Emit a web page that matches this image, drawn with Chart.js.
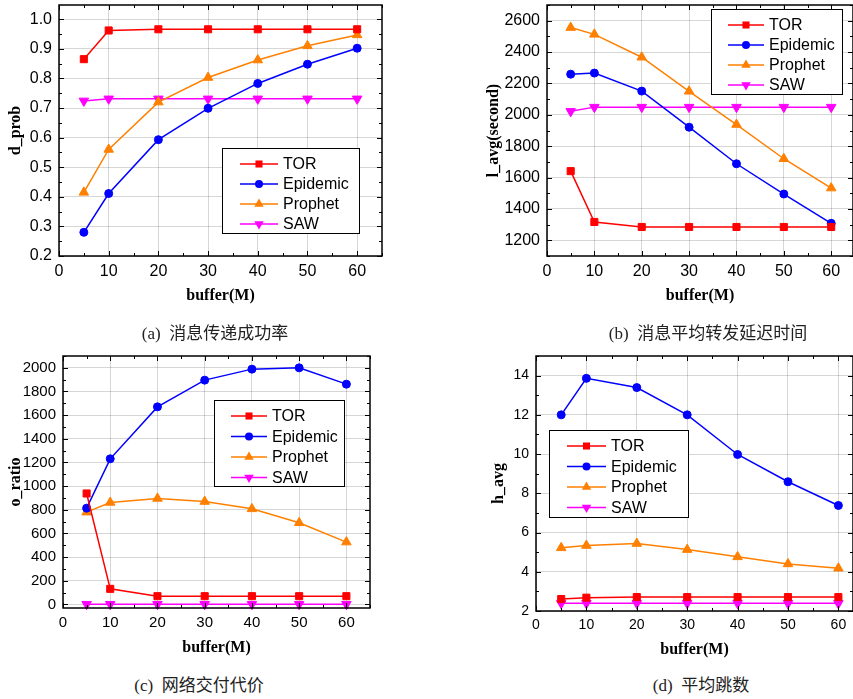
<!DOCTYPE html>
<html>
<head>
<meta charset="utf-8">
<script src="https://cdn.jsdelivr.net/npm/chart.js@4.4.0/dist/chart.umd.min.js"></script>
<style>
  body { margin: 0; background: #fff; }
  #wrap { position: relative; width: 853px; height: 699px; overflow: hidden; background: #fff; }
  .panel { position: absolute; }
  .cap {
    position: absolute;
    font-size: 17px;
    font-family: "Liberation Serif", "Noto Sans CJK SC", serif;
    color: #222;
    white-space: nowrap;
    transform: translateX(-50%);
  }
</style>
</head>
<body>
<div id="wrap">
  <canvas id="chartA" class="panel" style="left:0;top:0"></canvas>
  <canvas id="chartB" class="panel" style="left:430px;top:0"></canvas>
  <canvas id="chartC" class="panel" style="left:0;top:340px"></canvas>
  <canvas id="chartD" class="panel" style="left:430px;top:340px"></canvas>
  <div class="cap" style="left:215px;top:319px">(a)&nbsp; 消息传递成功率</div>
  <div class="cap" style="left:708px;top:319px">(b)&nbsp; 消息平均转发延迟时间</div>
  <div class="cap" style="left:199px;top:671px">(c)&nbsp; 网络交付代价</div>
  <div class="cap" style="left:701px;top:671px">(d)&nbsp; 平均跳数</div>
</div>

<script>
// x values shared by all panels
const bufferSizes = [5, 10, 20, 30, 40, 50, 60];
const xTicks = [0, 10, 20, 30, 40, 50, 60];
const seriesNames = ["TOR", "Epidemic", "Prophet", "SAW"];

// (a) d_prob
const probTOR = [0.865, 0.962, 0.966, 0.966, 0.966, 0.966, 0.966];
const probEpidemic = [0.28, 0.411, 0.593, 0.699, 0.783, 0.848, 0.902];
const probProphet = [0.415, 0.56, 0.72, 0.803, 0.862, 0.91, 0.947];
const probSAW = [0.724, 0.731, 0.731, 0.731, 0.731, 0.731, 0.731];
const probTicks = [0.2, 0.3, 0.4, 0.5, 0.6, 0.7, 0.8, 0.9, 1.0];

// (b) l_avg(second)
const delayTOR = [1641, 1317, 1285, 1285, 1285, 1285, 1285];
const delayEpidemic = [2259, 2266, 2151, 1921, 1688, 1495, 1308];
const delayProphet = [2556, 2513, 2367, 2150, 1938, 1720, 1533];
const delaySAW = [2022, 2049, 2049, 2049, 2049, 2049, 2049];
const delayTicks = [1200, 1400, 1600, 1800, 2000, 2200, 2400, 2600];

// (c) o_ratio
const costTOR = [938, 132, 70, 70, 70, 70, 70];
const costEpidemic = [814, 1231, 1670, 1896, 1989, 2000, 1862];
const costProphet = [780, 862, 896, 870, 808, 690, 527];
const costSAW = [2, 2, 2, 2, 2, 2, 2];
const costTicks = [0, 200, 400, 600, 800, 1000, 1200, 1400, 1600, 1800, 2000];

// (d) h_avg
const hopTOR = [2.61, 2.68, 2.71, 2.71, 2.71, 2.71, 2.71];
const hopEpidemic = [12.0, 13.86, 13.39, 12.0, 9.98, 8.59, 7.38];
const hopProphet = [5.22, 5.34, 5.44, 5.13, 4.76, 4.4, 4.18];
const hopSAW = [2.39, 2.39, 2.39, 2.39, 2.39, 2.39, 2.39];
const hopTicks = [2, 4, 6, 8, 10, 12, 14];

// look of each series: colour, marker, marker size, rotation
const seriesStyles = [
  { color: "#ff0000", point: "rect", radius: 5, rotation: 0 },
  { color: "#0000ff", point: "circle", radius: 4, rotation: 0 },
  { color: "#ff8000", point: "triangle", radius: 5.5, rotation: 0 },
  { color: "#ff00ff", point: "triangle", radius: 5.5, rotation: 180 },
];

const sansFont = "'Liberation Sans', Arial, sans-serif";
const serifFont = "'Liberation Serif', 'Times New Roman', serif";

function drawMarker(ctx, st, x, y) {
  const r = st.radius;
  ctx.fillStyle = st.color;
  ctx.beginPath();
  if (st.point === "rect") {
    const s = r * Math.SQRT1_2;
    ctx.rect(x - s, y - s, 2 * s, 2 * s);
  } else if (st.point === "circle") {
    ctx.arc(x, y, r, 0, Math.PI * 2);
  } else {
    let rad = (st.rotation * Math.PI) / 180;
    ctx.moveTo(x + Math.sin(rad) * r, y - Math.cos(rad) * r);
    rad += (2 * Math.PI) / 3;
    ctx.lineTo(x + Math.sin(rad) * r, y - Math.cos(rad) * r);
    rad += (2 * Math.PI) / 3;
    ctx.lineTo(x + Math.sin(rad) * r, y - Math.cos(rad) * r);
    ctx.closePath();
  }
  ctx.fill();
}

// frame, inward tick marks and boxed legend
const framePlugin = {
  id: "frame",
  afterDatasetsDraw(chart, args, o) {
    const { ctx, chartArea: a, scales } = chart;
    ctx.save();
    ctx.strokeStyle = "#000";
    ctx.lineWidth = 1;
    ctx.beginPath();
    const xs = scales.x, ys = scales.y;
    let k0 = Math.ceil(xs.min / o.xMinor - 1e-9), k1 = Math.floor(xs.max / o.xMinor + 1e-9);
    for (let k = k0; k <= k1; k++) {
      const px = Math.round(xs.getPixelForValue(k * o.xMinor)) + 0.5;
      const len = k % 2 === 0 ? 5 : 3;
      ctx.moveTo(px, a.bottom); ctx.lineTo(px, a.bottom - len);
      ctx.moveTo(px, a.top); ctx.lineTo(px, a.top + len);
    }
    k0 = Math.ceil(ys.min / o.yMinor - 1e-9);
    k1 = Math.floor(ys.max / o.yMinor + 1e-9);
    for (let k = k0; k <= k1; k++) {
      const py = Math.round(ys.getPixelForValue(k * o.yMinor)) + 0.5;
      const len = k % 2 === 0 ? 5 : 3;
      ctx.moveTo(a.left, py); ctx.lineTo(a.left + len, py);
      ctx.moveTo(a.right, py); ctx.lineTo(a.right - len, py);
    }
    ctx.stroke();
    ctx.lineWidth = 1.5;
    ctx.strokeRect(a.left, a.top, a.right - a.left, a.bottom - a.top);

    // legend box
    const L = o.legend;
    ctx.fillStyle = "#fff";
    ctx.fillRect(L.x, L.y, L.w, L.h);
    ctx.lineWidth = 1;
    ctx.strokeStyle = "#000";
    ctx.strokeRect(L.x + 0.5, L.y + 0.5, L.w, L.h);
    ctx.font = L.font + "px " + sansFont;
    ctx.textBaseline = "middle";
    ctx.textAlign = "left";
    seriesNames.forEach((name, i) => {
      const st = seriesStyles[i];
      const y = L.y + L.first + i * L.gap;
      ctx.strokeStyle = st.color;
      ctx.lineWidth = 1.5;
      ctx.beginPath();
      ctx.moveTo(L.x + L.lineStart, y);
      ctx.lineTo(L.x + L.lineStart + L.lineLen, y);
      ctx.stroke();
      drawMarker(ctx, st, L.x + L.lineStart + L.lineLen / 2, y);
      ctx.fillStyle = "#000";
      ctx.fillText(name, L.x + L.lineStart + L.lineLen + 5, y + 1);
    });
    ctx.restore();
  },
};

function makePanel(p) {
  const canvas = document.getElementById(p.id);
  canvas.width = p.width;
  canvas.height = p.height;
  canvas.style.width = p.width + "px";
  canvas.style.height = p.height + "px";

  const datasets = p.series.map((vals, i) => {
    const st = seriesStyles[i];
    return {
      label: seriesNames[i],
      data: bufferSizes.map((x, j) => ({ x: x, y: vals[j] })),
      borderColor: st.color,
      backgroundColor: st.color,
      borderWidth: 1.5,
      pointStyle: st.point,
      pointRadius: st.radius,
      pointRotation: st.rotation,
      pointBorderWidth: 1,
      pointBorderColor: st.color,
      pointBackgroundColor: st.color,
      tension: 0,
      clip: 8,
    };
  });

  new Chart(canvas, {
    type: "line",
    data: { datasets: datasets },
    options: {
      responsive: false,
      animation: false,
      layout: {
        autoPadding: false,
        padding: { left: p.padLeft, top: p.padTop, right: p.padRight, bottom: 0 },
      },
      plugins: {
        legend: { display: false },
        tooltip: { enabled: false },
        frame: { xMinor: 5, yMinor: p.yMinor, legend: p.legend },
      },
      scales: {
        x: {
          type: "linear",
          min: 0,
          max: p.xMax,
          afterBuildTicks: (s) => { s.ticks = xTicks.map((v) => ({ value: v })); },
          afterFit: (s) => {
            s.height = p.xAxisHeight;
            s.paddingLeft = 0;
            s.paddingRight = 0;
          },
          grid: { color: "rgba(0,0,0,0.16)", lineWidth: 1, drawTicks: false },
          border: { display: false },
          ticks: {
            padding: 6,
            color: "#000",
            font: { family: sansFont, size: p.tickSize },
            maxRotation: 0,
          },
          title: {
            display: true,
            text: "buffer(M)",
            color: "#000",
            font: { family: serifFont, size: 16, weight: "bold" },
            padding: { top: 0, bottom: p.xTitlePad },
          },
        },
        y: {
          type: "linear",
          min: p.yMin,
          max: p.yMax,
          afterBuildTicks: (s) => { s.ticks = p.yTicks.map((v) => ({ value: v })); },
          afterFit: (s) => {
            s.width = p.yAxisWidth;
            s.paddingTop = 0;
            s.paddingBottom = 0;
          },
          grid: { color: "rgba(0,0,0,0.16)", lineWidth: 1, drawTicks: false },
          border: { display: false },
          ticks: {
            padding: 7,
            color: "#000",
            font: { family: sansFont, size: p.tickSize },
            callback: (v) => (p.decimals ? Number(v).toFixed(p.decimals) : v),
          },
          title: {
            display: true,
            text: p.yTitle,
            color: "#000",
            font: { family: serifFont, size: 16, weight: "bold" },
            padding: { top: p.yTitlePad, bottom: 0 },
          },
        },
      },
    },
    plugins: [framePlugin],
  });
}

makePanel({
  id: "chartA", width: 430, height: 315,
  padLeft: 0, padTop: 5, padRight: 48,
  yAxisWidth: 59, xAxisHeight: 59, xTitlePad: 10, yTitlePad: 6,
  xMax: 65, yMin: 0.2, yMax: 1.048, yTicks: probTicks, yMinor: 0.05, decimals: 1,
  yTitle: "d_prob", tickSize: 16,
  series: [probTOR, probEpidemic, probProphet, probSAW],
  legend: { x: 222, y: 148, w: 137, h: 85, first: 16, gap: 20, lineStart: 18, lineLen: 38, font: 16 },
});

makePanel({
  id: "chartB", width: 423, height: 315,
  padLeft: 0, padTop: 5, padRight: 0,
  yAxisWidth: 117, xAxisHeight: 59, xTitlePad: 10, yTitlePad: 54,
  xMax: 64.6, yMin: 1100, yMax: 2700, yTicks: delayTicks, yMinor: 100, decimals: 0,
  yTitle: "l_avg(second)", tickSize: 16,
  series: [delayTOR, delayEpidemic, delayProphet, delaySAW],
  legend: { x: 281, y: 9, w: 131, h: 85, first: 16, gap: 20, lineStart: 17, lineLen: 36, font: 16 },
});

makePanel({
  id: "chartC", width: 430, height: 330,
  padLeft: 0, padTop: 16, padRight: 60,
  yAxisWidth: 63, xAxisHeight: 62, xTitlePad: 13, yTitlePad: 6,
  xMax: 65, yMin: -30, yMax: 2100, yTicks: costTicks, yMinor: 100, decimals: 0,
  yTitle: "o_ratio", tickSize: 15,
  series: [costTOR, costEpidemic, costProphet, costSAW],
  legend: { x: 214, y: 60, w: 130, h: 86, first: 16, gap: 20.5, lineStart: 17, lineLen: 36, font: 16 },
});

makePanel({
  id: "chartD", width: 423, height: 330,
  padLeft: 0, padTop: 16, padRight: 0,
  yAxisWidth: 106, xAxisHeight: 59, xTitlePad: 11, yTitlePad: 59,
  xMax: 62.9, yMin: 2, yMax: 15, yTicks: hopTicks, yMinor: 1, decimals: 0,
  yTitle: "h_avg", tickSize: 14,
  series: [hopTOR, hopEpidemic, hopProphet, hopSAW],
  legend: { x: 119, y: 90, w: 139, h: 87, first: 16, gap: 20.5, lineStart: 18, lineLen: 39, font: 16 },
});
</script>
</body>
</html>
